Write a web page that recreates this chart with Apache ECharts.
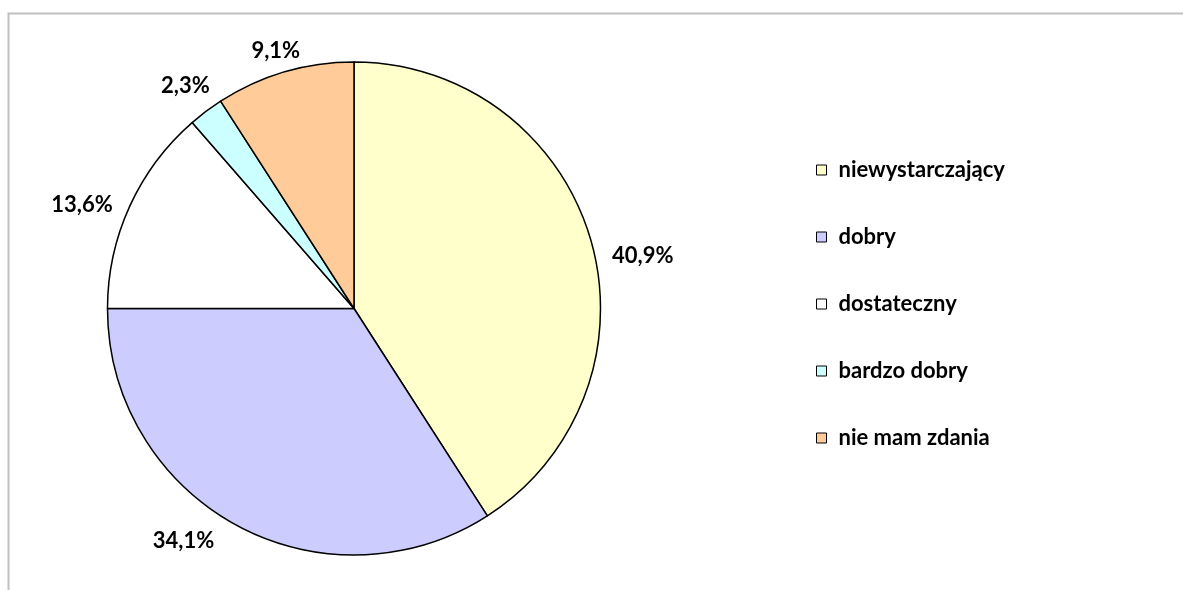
<!DOCTYPE html>
<html><head><meta charset="utf-8">
<script src="https://cdn.jsdelivr.net/npm/echarts@6/dist/echarts.min.js"></script>
<style>html,body{margin:0;padding:0;background:#fff}#c{width:1183px;height:590px}</style>
</head><body><div id="c"></div>
<script>
const categories = ['niewystarczający', 'dobry', 'dostateczny', 'bardzo dobry', 'nie mam zdania'];
const values = [40.9, 34.1, 13.6, 2.3, 9.1];
const colors = ['#FFFFCC', '#CCCCFF', '#FFFFFF', '#CCFFFF', '#FFCC99'];
// small label nudges (px) to mimic the original label placement
const labelNudges = [[5, 20], [-11, 5], [-1, 4], [16, -16], [24, -10]];

const chart = echarts.init(document.getElementById('c'), null, {renderer: 'canvas'});
const FONT = 'Lato, "Open Sans", sans-serif';
chart.setOption({
  animation: false,
  graphic: [{
    type: 'rect', shape: {x: 8.5, y: 13.5, width: 1200, height: 600},
    style: {fill: 'none', stroke: '#C0C0C0', lineWidth: 2}, silent: true
  }],
  legend: {
    orient: 'vertical', left: 811, top: 154,
    itemWidth: 10, itemHeight: 10, itemGap: 45,
    icon: 'rect',
    itemStyle: {borderColor: '#000', borderWidth: 1},
    textStyle: {fontFamily: FONT, fontWeight: 'bold', fontSize: 22, lineHeight: 22, color: '#000', padding: [0, 0, 0, 7]},
    data: categories
  },
  series: [{
    type: 'pie', center: [354, 308.5], radius: 246.5,
    startAngle: 90, clockwise: true,
    data: categories.map((n, i) => ({name: n, value: values[i], itemStyle: {color: colors[i]}})),
    itemStyle: {borderColor: '#000', borderWidth: 1.5},
    label: {
      show: true, position: 'outside',
      formatter: p => p.value.toFixed(1).replace('.', ',') + '%',
      fontFamily: FONT, fontWeight: 'bold', fontSize: 22, color: '#000'
    },
    labelLine: {show: false, length: 12, length2: 0},
    labelLayout: p => ({dx: labelNudges[p.dataIndex][0], dy: labelNudges[p.dataIndex][1]}),
    emphasis: {disabled: true}
  }]
});
</script></body></html>
